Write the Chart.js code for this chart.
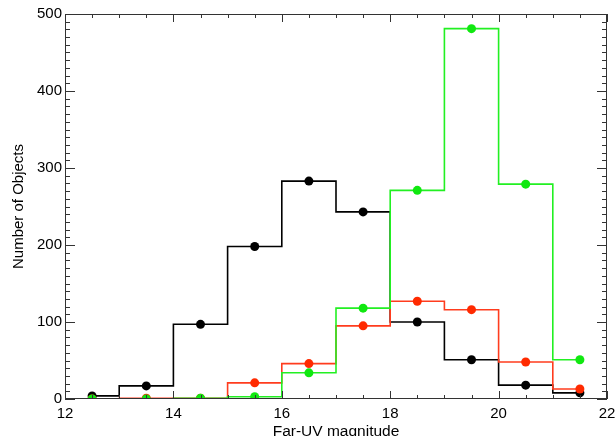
<!DOCTYPE html>
<html>
<head>
<meta charset="utf-8">
<script src="https://cdn.jsdelivr.net/npm/chart.js@4/dist/chart.umd.min.js"></script>
<style>
  body { margin: 0; background: #fff; }
  canvas { display: block; }
</style>
</head>
<body>
<canvas id="chart" width="616" height="436"></canvas>
<script>
// bin centres (Far-UV magnitude) and counts per sample
let binCenters = [12.5, 13.5, 14.5, 15.5, 16.5, 17.5, 18.5, 19.5, 20.5, 21.5];
let blackCounts = [4, 17, 97, 198, 283, 243, 100, 51, 18, 8];
let redCounts = [0, 1, 1, 21, 46, 95, 127, 116, 48, 13];
let greenCounts = [0, 0, 1, 3, 34, 118, 271, 481, 279, 51];
let xTicks = [12, 14, 16, 18, 20, 22];
let yTicks = [0, 100, 200, 300, 400, 500];

let fontName = '"Liberation Sans", Helvetica, Arial, sans-serif';

function toPoints(counts){
  return binCenters.map((x, i) => ({x: x, y: counts[i]}));
}

function makeSet(counts, lineColor, dotColor, ord){
  return {
    data: toPoints(counts),
    stepped: 'middle',
    borderColor: lineColor,
    borderWidth: 1.6,
    backgroundColor: dotColor,
    pointBackgroundColor: dotColor,
    pointBorderWidth: 0,
    pointRadius: 4.5,
    fill: false,
    order: ord
  };
}

// frame + inward ticks like the original plot
let boxTicks = {
  id: 'boxTicks',
  afterDatasetsDraw(chart){
    let ctx = chart.ctx;
    let a = chart.chartArea;
    let xs = chart.scales.x, ys = chart.scales.y;
    ctx.save();
    ctx.strokeStyle = '#333';
    ctx.lineWidth = 1;
    ctx.strokeRect(a.left + 0.5, a.top + 0.5, a.right - a.left - 1, a.bottom - a.top - 1);
    ctx.beginPath();
    for (let v = 12; v <= 22.001; v += 0.5){
      let px = Math.round(xs.getPixelForValue(v)) + 0.5;
      let len = (Math.abs(v % 2) < 0.01) ? 8 : 4;
      ctx.moveTo(px, a.bottom); ctx.lineTo(px, a.bottom - len);
      ctx.moveTo(px, a.top); ctx.lineTo(px, a.top + len);
    }
    for (let v = 0; v <= 500; v += 10){
      let py = Math.round(ys.getPixelForValue(v)) + 0.5;
      let len = (v % 100 === 0) ? 10 : 5;
      ctx.moveTo(a.left, py); ctx.lineTo(a.left + len, py);
      ctx.moveTo(a.right, py); ctx.lineTo(a.right - len, py);
    }
    ctx.stroke();
    ctx.restore();
  }
};

new Chart(document.getElementById('chart'), {
  type: 'line',
  data: {
    datasets: [
      makeSet(greenCounts, '#22f022', '#10e810', 0),
      makeSet(redCounts, '#ff3c1e', '#ff2a00', 1),
      makeSet(blackCounts, '#000000', '#000000', 2)
    ]
  },
  options: {
    responsive: false,
    animation: false,
    layout: { padding: { top: 14, right: 9, left: 0, bottom: 0 } },
    plugins: {
      legend: { display: false },
      tooltip: { enabled: false }
    },
    scales: {
      x: {
        type: 'linear',
        min: 12,
        max: 22,
        afterBuildTicks: (s) => { s.ticks = xTicks.map(v => ({value: v})); },
        afterFit: (s) => { s.height = 37; s.paddingLeft = 0; s.paddingRight = 0; },
        grid: { display: false, drawTicks: false },
        border: { display: false },
        ticks: { color: '#000', padding: 6, maxRotation: 0, font: { family: fontName, size: 15 } },
        title: {
          display: true,
          text: 'Far-UV magnitude',
          color: '#000',
          padding: { top: 0, bottom: -5 },
          font: { family: fontName, size: 15.5 }
        }
      },
      y: {
        min: 0,
        max: 500,
        afterBuildTicks: (s) => { s.ticks = yTicks.map(v => ({value: v})); },
        afterFit: (s) => { s.width = 65; s.paddingTop = 0; s.paddingBottom = 0; },
        grid: { display: false, drawTicks: false },
        border: { display: false },
        ticks: { color: '#000', padding: 3, font: { family: fontName, size: 15 } },
        title: {
          display: true,
          text: 'Number of Objects',
          color: '#000',
          padding: { top: 10, bottom: 0 },
          font: { family: fontName, size: 15 }
        }
      }
    }
  },
  plugins: [boxTicks]
});
</script>
</body>
</html>
